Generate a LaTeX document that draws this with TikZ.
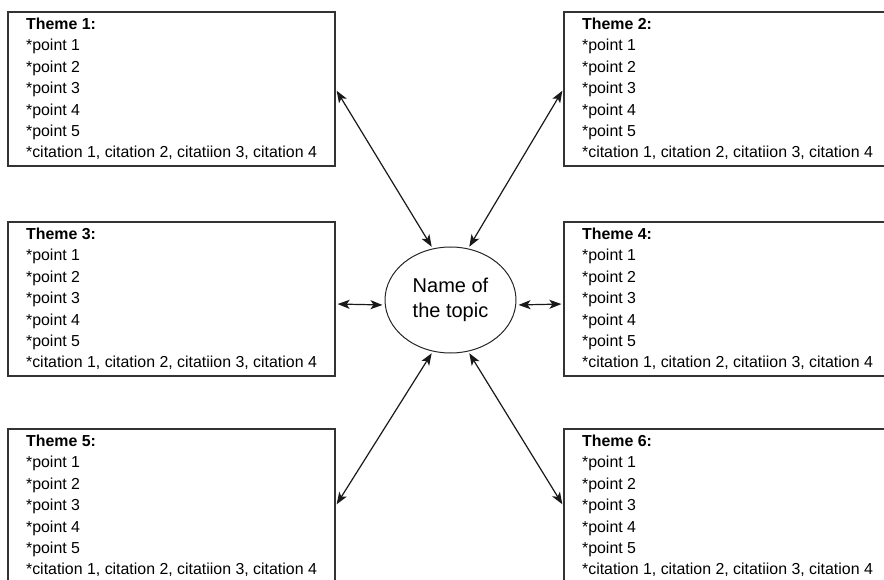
\documentclass[tikz,border=0pt]{standalone}
\usepackage{fontspec}
\setmainfont{Liberation Sans}
\usetikzlibrary{arrows.meta,shapes.geometric}

\newcommand{\themepoints}[1]{\textbf{Theme #1:}\\{}*point 1\\{}*point 2\\{}*point 3\\{}*point 4\\{}*point 5\\{}*citation 1, citation 2, citatiion 3, citation 4}

\begin{document}
\begin{tikzpicture}[
  x=1pt, y=-1pt,
  theme/.style={draw=black!80, line width=1.2pt, align=left, minimum width=327pt, minimum height=154pt, inner sep=0pt, font=\fontsize{15.9}{21.4}\selectfont},
  topic/.style={draw=black!85, ellipse, line width=1pt, minimum width=131pt, minimum height=106pt, inner sep=0pt, align=center, font=\fontsize{20}{25}\selectfont},
  link/.style={{Stealth[length=12pt,width=9pt,inset=3pt]}-{Stealth[length=12pt,width=9pt,inset=3pt]}, line width=1.2pt, black!90, shorten <=2pt, shorten >=2pt}
]
\useasboundingbox (0,0) rectangle (884,580);
\node[topic] (topic) at (450.5,300) {Name of\\the topic};
\node[theme] (t1) at (171.5,89) {\themepoints{1}};
\node[theme] (t2) at (727.5,89) {\themepoints{2}};
\node[theme] (t3) at (171.5,299) {\themepoints{3}};
\node[theme] (t4) at (727.5,299) {\themepoints{4}};
\node[theme] (t5) at (171.5,506) {\themepoints{5}};
\node[theme] (t6) at (727.5,506) {\themepoints{6}};

\draw[link] (t1.east) -- (topic.109);
\draw[link] (t2.west) -- (topic.71);
\draw[link] ([yshift=-5pt]t3.east) -- ([yshift=-5pt]topic.west);
\draw[link] ([yshift=-5pt]t4.west) -- ([yshift=-5pt]topic.east);
\draw[link] (t5.east) -- (topic.-109);
\draw[link] (t6.west) -- (topic.-71);
\end{tikzpicture}
\end{document}
